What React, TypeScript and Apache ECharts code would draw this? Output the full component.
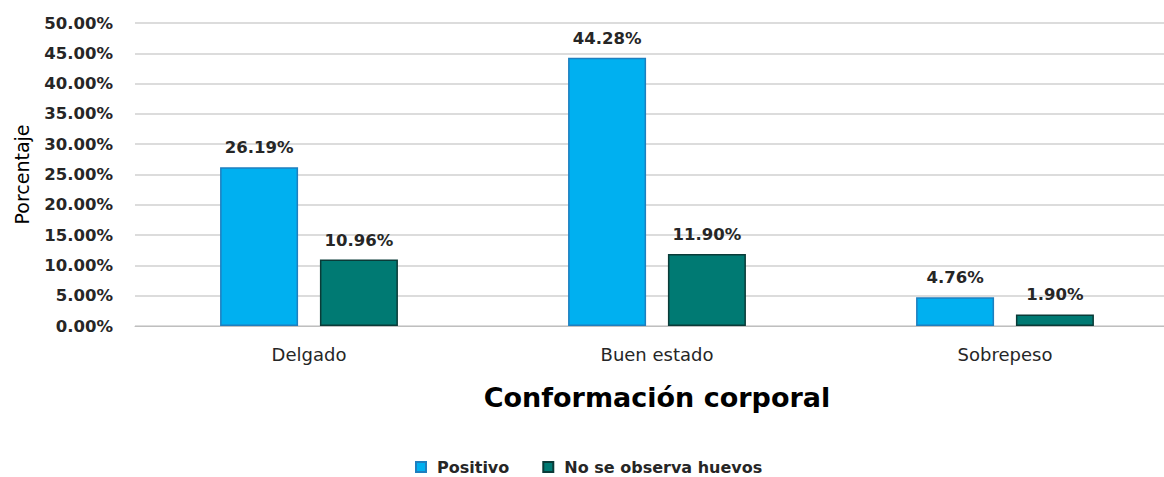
import React, { useEffect, useRef } from "react";
import * as echarts from "echarts";

const categories = ["Delgado", "Buen estado", "Sobrepeso"];
const positivo = [26.19, 44.28, 4.76];
const noHuevos = [10.96, 11.9, 1.9];
const seriesNames = ["Positivo", "No se observa huevos"];
const yTicks = { min: 0, max: 50, interval: 5 };

const FONT = "'DejaVu Sans', sans-serif";

export default function App() {
  const ref = useRef<HTMLDivElement>(null);
  useEffect(() => {
    if (!ref.current) return;
    const chart = echarts.init(ref.current, undefined, { renderer: "svg" });
    const labelCfg = {
      show: true,
      position: "top",
      distance: 11,
      fontFamily: FONT,
      fontWeight: "bold",
      fontSize: 16.5,
      color: "#262626",
      formatter: (p: any) => Number(p.value).toFixed(2) + "%",
    };
    chart.setOption({
      animation: false,
      textStyle: { fontFamily: FONT },
      grid: { left: 135, right: 0, top: 23, bottom: 151, containLabel: false },
      legend: {
        top: 459,
        left: 415,
        padding: 0,
        icon: "rect",
        itemWidth: 10,
        itemHeight: 10,
        itemGap: 33,
        textStyle: {
          fontFamily: FONT,
          fontWeight: "bold",
          fontSize: 16,
          color: "#262626",
          padding: [0, 0, 0, 6],
        },
        data: seriesNames,
      },
      xAxis: {
        type: "category",
        data: categories,
        name: "Conformación corporal",
        nameLocation: "middle",
        nameGap: 58,
        nameTextStyle: { fontFamily: FONT, fontWeight: "bold", fontSize: 27, color: "#000" },
        axisLine: { lineStyle: { color: "#bfbfbf" } },
        axisTick: { show: false },
        axisLabel: { fontFamily: FONT, fontSize: 18, color: "#262626", margin: 19 },
      },
      yAxis: {
        type: "value",
        min: yTicks.min,
        max: yTicks.max,
        interval: yTicks.interval,
        name: "Porcentaje",
        nameLocation: "middle",
        nameGap: 104,
        nameRotate: 90,
        nameTextStyle: { fontFamily: FONT, fontSize: 19, color: "#000" },
        axisLine: { show: false },
        axisTick: { show: false },
        splitLine: { lineStyle: { color: "#d0d0d0", width: 1.5 } },
        axisLabel: {
          fontFamily: FONT,
          fontWeight: "bold",
          fontSize: 16.5,
          color: "#262626",
          margin: 22,
          formatter: (v: number) => v.toFixed(2) + "%",
        },
      },
      series: [
        {
          name: seriesNames[0],
          type: "bar",
          data: positivo,
          barWidth: 78,
          barGap: "28%",
          itemStyle: { color: "#00B0F0", borderColor: "#1E7FBF", borderWidth: 1.5 },
          label: labelCfg,
        },
        {
          name: seriesNames[1],
          type: "bar",
          data: noHuevos,
          barWidth: 78,
          barGap: "28%",
          itemStyle: { color: "#007A73", borderColor: "#0A3B38", borderWidth: 1.5 },
          label: labelCfg,
        },
      ],
    });
    return () => chart.dispose();
  }, []);
  return (
    <div style={{ position: "fixed", left: 0, top: 0, width: 1164, height: 477, overflow: "hidden" }}>
      <div
        ref={ref}
        style={{ position: "absolute", left: 0, top: 0, width: 1179, height: 477, background: "#fff" }}
      />
    </div>
  );
}
